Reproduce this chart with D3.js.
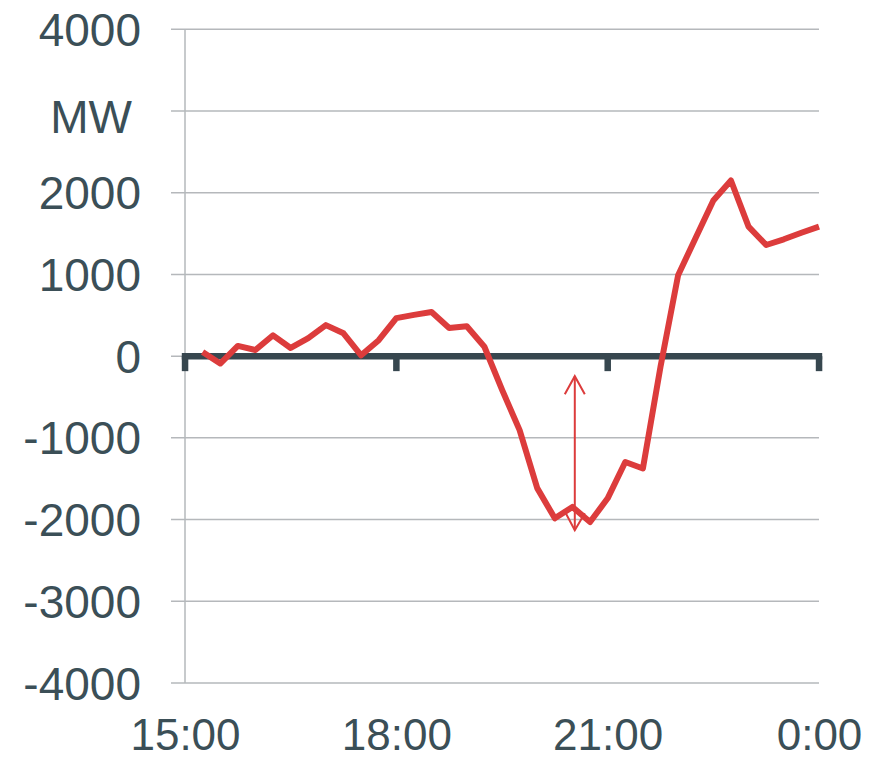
<!DOCTYPE html>
<html>
<head>
<meta charset="utf-8">
<script src="https://cdn.jsdelivr.net/npm/d3@7"></script>
<style>
  html, body { margin: 0; padding: 0; background: #ffffff; }
  svg { display: block; font-family: "Liberation Sans", Arial, sans-serif; }
</style>
</head>
<body>
<svg id="chart" width="879" height="760"></svg>
<script>
// Quarter-hourly power balance, 15:00 to midnight (MW)
const times = ["15:15","15:30","15:45","16:00","16:15","16:30","16:45","17:00","17:15","17:30","17:45","18:00",
               "18:15","18:30","18:45","19:00","19:15","19:30","19:45","20:00","20:15","20:30","20:45","21:00",
               "21:15","21:30","21:45","22:00","22:15","22:30","22:45","23:00","23:15","23:30","23:45","0:00"];
const values = [50, -90, 125, 75, 255, 100, 220, 380, 280, 10, 195, 465,
                505, 540, 345, 365, 115, -410, -905, -1615, -1985, -1845, -2030, -1740,
                -1295, -1375, -130, 990, 1450, 1905, 2150, 1585, 1360, 1430, 1510, 1585];

const xTickLabels = ["15:00", "18:00", "21:00", "0:00"];
const yTicks = [4000, 3000, 2000, 1000, 0, -1000, -2000, -3000, -4000];
const yUnit = "MW";

// Arrow marking the evening dip
const arrowTime = "20:32";
const arrowFrom = -245;
const arrowTo = -2130;

// hours after 15:00; midnight counts as 24:00
function toHours(t) {
  const [h, m] = t.split(":").map(Number);
  const hh = h < 15 ? h + 24 : h;
  return hh - 15 + m / 60;
}

const svg = d3.select("#chart");
const textColor = "#3b4f57";
const axisDark = "#37474f";
const gridColor = "#b5b8bb";
const red = "#dc3c3c";

const x = d3.scaleLinear().domain([0, 9]).range([185, 819]);
const y = d3.scaleLinear().domain([-4000, 4000]).range([683, 29.3]);

// horizontal gridlines
svg.append("g")
  .selectAll("line")
  .data(yTicks)
  .join("line")
  .attr("x1", 171).attr("x2", 819)
  .attr("y1", d => y(d)).attr("y2", d => y(d))
  .attr("stroke", gridColor)
  .attr("stroke-width", 1.5);

// vertical axis line
svg.append("line")
  .attr("x1", x(0)).attr("x2", x(0))
  .attr("y1", y(4000)).attr("y2", y(-4000))
  .attr("stroke", gridColor)
  .attr("stroke-width", 1.5);

// y labels (3000 slot carries the unit)
const yAxis = d3.axisLeft(y)
  .tickValues(yTicks.filter(d => d !== 3000))
  .tickSize(0)
  .tickPadding(44)
  .tickFormat(d => String(d));
const gy = svg.append("g").attr("transform", `translate(${x(0)},0)`).call(yAxis);
gy.select(".domain").remove();
gy.selectAll("text")
  .attr("fill", textColor)
  .attr("font-size", 46)
  .attr("font-family", "Liberation Sans, Arial, sans-serif")
  .attr("dy", "0.35em");

svg.append("text")
  .attr("x", 91)
  .attr("y", y(3000) + 6)
  .attr("dy", "0.35em")
  .attr("text-anchor", "middle")
  .attr("fill", textColor)
  .attr("font-size", 46)
  .text(yUnit);

// data line
const line = d3.line()
  .x(d => x(toHours(d.t)))
  .y(d => y(d.v));
const series = times.map((t, i) => ({ t, v: values[i] }));

// thick zero baseline with hanging ticks
const xTickPos = xTickLabels.map(toHours);
svg.append("line")
  .attr("x1", x(0) - 3.2).attr("x2", x(9) + 3.2)
  .attr("y1", y(0)).attr("y2", y(0))
  .attr("stroke", axisDark)
  .attr("stroke-width", 6.5);
svg.append("g")
  .selectAll("rect")
  .data(xTickPos)
  .join("rect")
  .attr("x", d => x(d) - 3.2)
  .attr("y", y(0))
  .attr("width", 6.5)
  .attr("height", 15)
  .attr("fill", axisDark);

svg.append("path")
  .datum(series)
  .attr("d", line)
  .attr("fill", "none")
  .attr("stroke", red)
  .attr("stroke-width", 6)
  .attr("stroke-linejoin", "round")
  .attr("stroke-linecap", "butt");

// arrow annotation
const ax = x(toHours(arrowTime));
const ay1 = y(arrowFrom), ay2 = y(arrowTo);
const ga = svg.append("g")
  .attr("fill", "none")
  .attr("stroke", red)
  .attr("stroke-width", 2);
ga.append("line").attr("x1", ax).attr("x2", ax).attr("y1", ay1).attr("y2", ay2);
ga.append("polyline").attr("points", `${ax - 10},${ay1 + 18} ${ax},${ay1} ${ax + 10},${ay1 + 18}`);
ga.append("polyline").attr("points", `${ax - 9},${ay2 - 17} ${ax},${ay2} ${ax + 10},${ay2 - 17}`);

// x labels
const xAxis = d3.axisBottom(x)
  .tickValues(xTickPos)
  .tickSize(0)
  .tickFormat((d, i) => xTickLabels[i]);
const gx = svg.append("g").attr("transform", "translate(0,0)").call(xAxis);
gx.select(".domain").remove();
gx.selectAll("text")
  .attr("fill", textColor)
  .attr("font-size", 44)
  .attr("font-family", "Liberation Sans, Arial, sans-serif")
  .attr("y", 750)
  .attr("dy", 0);
</script>
</body>
</html>
